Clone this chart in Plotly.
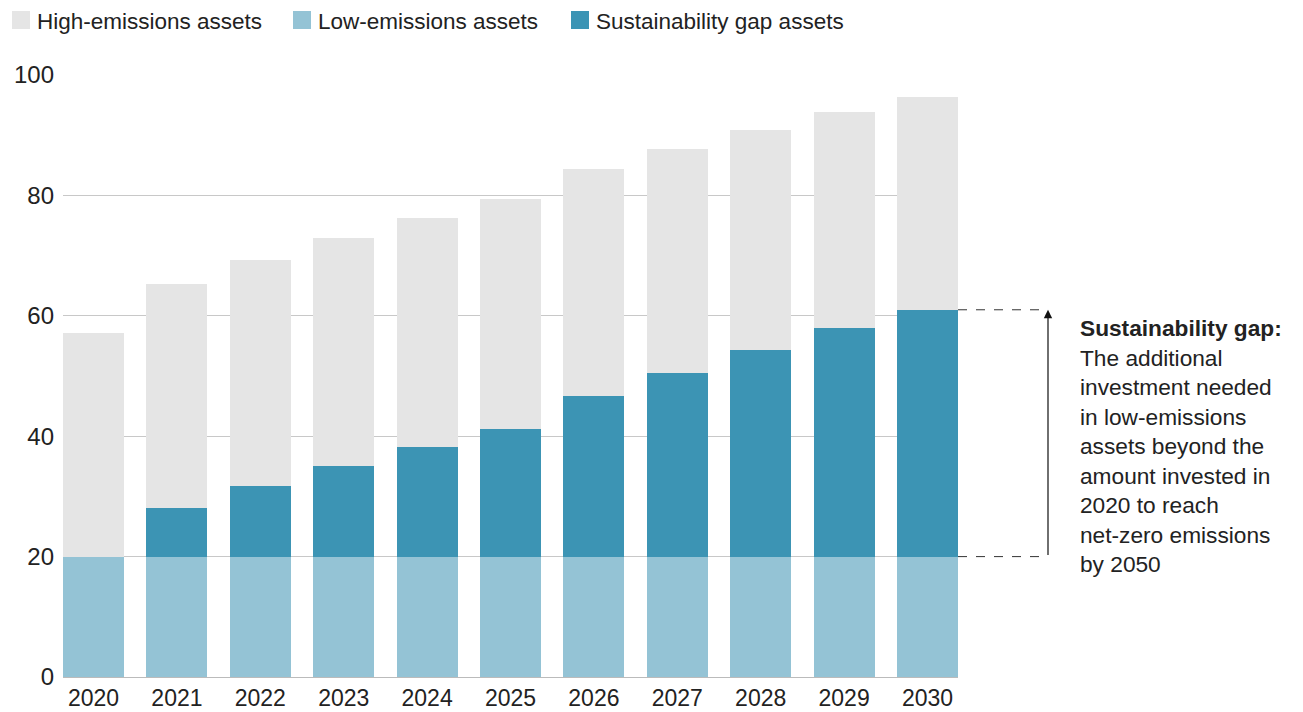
"""Sustainability gap stacked bar chart."""

import plotly.graph_objects as go

years = ["2020", "2021", "2022", "2023", "2024", "2025", "2026", "2027", "2028", "2029", "2030"]
low_emissions = [20, 20, 20, 20, 20, 20, 20, 20, 20, 20, 20]
gap_assets = [0, 8.1, 11.7, 15.0, 18.2, 21.2, 26.7, 30.5, 34.3, 38.0, 41.0]
high_emissions = [37.1, 37.2, 37.6, 37.9, 38.0, 38.2, 37.7, 37.2, 36.6, 35.9, 35.3]

series_names = ["High-emissions assets", "Low-emissions assets", "Sustainability gap assets"]
y_ticks = [0, 20, 40, 60, 80, 100]

HIGH = "#e5e5e5"
LOW = "#94c3d5"
GAP = "#3c94b4"
FONT = "Liberation Sans, Arial, sans-serif"
TXT = "#222222"

# page renders the figure offset by the body margin
OFF = 8
W, H = 1303 - OFF, 712 - OFF
L, T = 63 - OFF, 75 - OFF
R = W - (958 - OFF)
B = H - (677 - OFF)
plot_w = W - L - R
plot_h = H - T - B

fig = go.Figure()
for vals, name, color in [
    (low_emissions, series_names[1], LOW),
    (gap_assets, series_names[2], GAP),
    (high_emissions, series_names[0], HIGH),
]:
    fig.add_trace(
        go.Bar(
            x=years,
            y=vals,
            name=name,
            marker=dict(color=color, line=dict(width=0)),
            width=0.732,
            showlegend=False,
        )
    )


def px_to_paper_x(px):
    return (px - OFF - L) / plot_w


def px_to_paper_y(py):
    return (H - B - (py - OFF)) / plot_h


# manual legend along the top
legend_pos = [(12, HIGH), (293, LOW), (571, GAP)]
shapes = []
annotations = []
for (lx, color), name in zip(legend_pos, series_names):
    shapes.append(dict(
        type="rect", xref="paper", yref="paper",
        x0=px_to_paper_x(lx), x1=px_to_paper_x(lx + 18),
        y0=px_to_paper_y(29), y1=px_to_paper_y(11),
        fillcolor=color, line=dict(width=0),
    ))
    annotations.append(dict(
        xref="paper", yref="paper",
        x=px_to_paper_x(lx + 24), y=px_to_paper_y(8),
        xanchor="left", yanchor="top", showarrow=False,
        text=name, font=dict(size=22.5, color=TXT, family=FONT),
        borderpad=0,
    ))

# gap bracket on the right
gap_top = low_emissions[-1] + gap_assets[-1]
gap_bottom = low_emissions[-1]
arrow_x = px_to_paper_x(1048)
for yv in (gap_top, gap_bottom):
    shapes.append(dict(
        type="line", xref="paper", yref="y",
        x0=1.0, x1=arrow_x, y0=yv, y1=yv,
        line=dict(color="#333333", width=1, dash="dash"),
    ))
annotations.append(dict(
    xref="paper", yref="y", x=arrow_x, y=gap_top,
    ax=0, ay=(gap_top - gap_bottom) * plot_h / 100,
    showarrow=True, arrowhead=2, arrowsize=1.4, arrowwidth=1.2, arrowcolor="#111111",
    text="",
))
annotations.append(dict(
    xref="paper", yref="paper",
    x=px_to_paper_x(1078), y=px_to_paper_y(313),
    xanchor="left", yanchor="top", align="left", showarrow=False,
    text=(
        "<b>Sustainability gap:</b><br>The additional<br>investment needed<br>"
        "in low-emissions<br>assets beyond the<br>amount invested in<br>"
        "2020 to reach<br>net-zero emissions<br>by 2050"
    ),
    font=dict(size=22.7, color=TXT, family=FONT),
))

fig.update_layout(
    width=W,
    height=H,
    barmode="stack",
    plot_bgcolor="white",
    paper_bgcolor="white",
    margin=dict(l=L, r=R, t=T, b=B),
    font=dict(family=FONT, size=23, color=TXT),
    shapes=shapes,
    annotations=annotations,
    xaxis=dict(
        type="category",
        range=[-0.366, len(years) - 1 + 0.366],
        showgrid=False,
        showline=True,
        linecolor="#bbbbbb",
        ticks="",
        tickfont=dict(size=23, color=TXT),
        ticklabelstandoff=0,
        automargin=False,
    ),
    yaxis=dict(
        range=[0, 100],
        tickvals=y_ticks,
        showgrid=True,
        gridcolor="#c8c8c8",
        gridwidth=1,
        zeroline=False,
        ticks="",
        tickfont=dict(size=24, color=TXT),
        ticklabelstandoff=8,
        automargin=False,
    ),
)

fig.write_html("out.html")
